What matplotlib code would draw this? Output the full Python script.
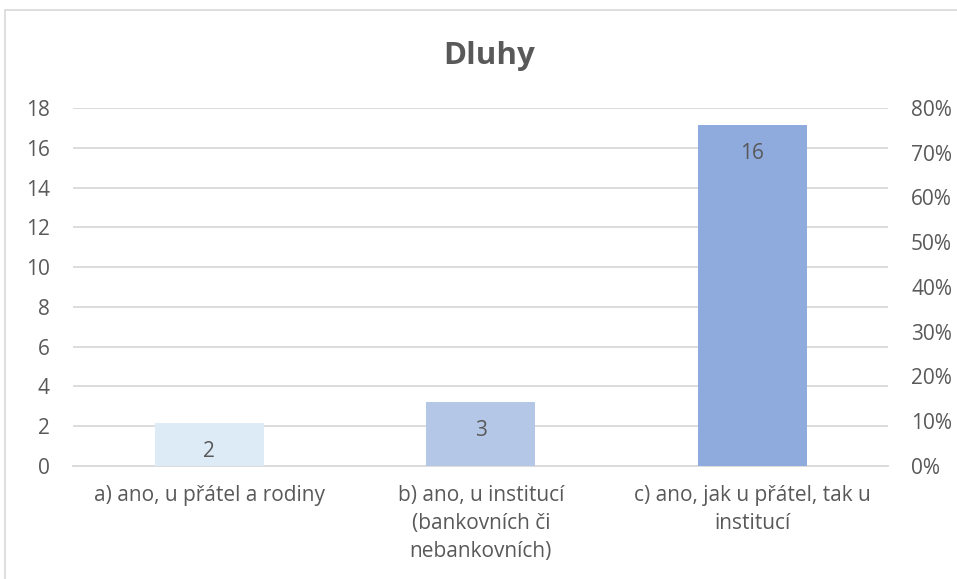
import matplotlib.pyplot as plt
import matplotlib.patches as mpatches
import numpy as np

categories = [
    "a) ano, u přátel a rodiny",
    "b) ano, u institucí\n(bankovních či\nnebankovních)",
    "c) ano, jak u přátel, tak u\ninstitucí",
]
counts = [2, 3, 16]
colors = ["#DDEBF7", "#B4C7E7", "#8FAADC"]

total = sum(counts)
share = [c / total for c in counts]

plt.rcParams["font.family"] = ["Open Sans", "DejaVu Sans"]
text_col = "#595959"
grid_col = "#D9D9D9"

fig = plt.figure(figsize=(9.57, 5.79), dpi=100)
fig.patches.append(mpatches.Rectangle((5 / 957, -0.1), 1.2, 1 - 10 / 579 + 0.1,
                                      transform=fig.transFigure, fill=False,
                                      edgecolor=grid_col, lw=1.2))

ax = fig.add_axes([0.0768, 0.1952, 0.8512, 0.6183])
ax2 = ax.twinx()

x = np.arange(len(categories))
ax.set_xlim(-0.5, 2.5)
ax.set_ylim(0, 18)
ax.set_yticks(range(0, 19, 2))
ax.grid(axis="y", color=grid_col, lw=1.3)
ax.set_axisbelow(True)

ax2.set_ylim(0, 0.8)
ax2.set_yticks(np.arange(0, 0.81, 0.1))
ax2.set_yticklabels([f"{int(round(v * 100))}%" for v in np.arange(0, 0.81, 0.1)])

bars = ax2.bar(x, share, width=0.4, color=colors)
for b, c in zip(bars, counts):
    ax2.annotate(str(c), (b.get_x() + b.get_width() / 2, b.get_height()),
                 xytext=(0, -28), textcoords="offset pixels",
                 ha="center", va="center", fontsize=15, color=text_col)

ax.set_xticks(x)
ax.set_xticklabels(categories, linespacing=1.45, va="top")
for a in (ax, ax2):
    for s in a.spines.values():
        s.set_visible(False)
ax.spines["bottom"].set_visible(True)
ax.spines["bottom"].set_color(grid_col)
ax.spines["bottom"].set_linewidth(1.3)

ax.tick_params(axis="x", length=0, pad=13.5, labelsize=15, labelcolor=text_col)
ax.tick_params(axis="y", length=0, pad=17, labelsize=15, labelcolor=text_col)
ax2.tick_params(axis="y", length=0, pad=16.5, labelsize=15, labelcolor=text_col)

fig.text(489 / 957, 1 - 64 / 579, "Dluhy", ha="center", va="baseline",
         fontsize=22.5, fontweight="bold", color=text_col)

fig.savefig("out.png", dpi=100)
